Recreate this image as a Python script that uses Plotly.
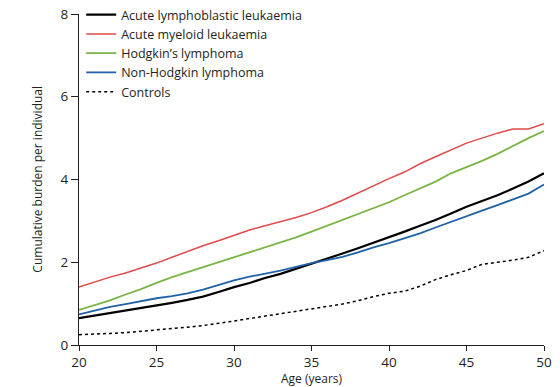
import plotly.graph_objects as go

ages = list(range(20, 51))

all_vals = [0.65, 0.71, 0.77, 0.83, 0.90, 0.96, 1.02, 1.09, 1.17, 1.28, 1.40, 1.50, 1.62, 1.72,
            1.84, 1.96, 2.08, 2.21, 2.34, 2.47, 2.60, 2.74, 2.88, 3.02, 3.18, 3.34, 3.48, 3.62,
            3.78, 3.95, 4.15]
aml_vals = [1.40, 1.52, 1.64, 1.74, 1.86, 1.98, 2.12, 2.26, 2.40, 2.52, 2.65, 2.78, 2.88, 2.98,
            3.08, 3.20, 3.34, 3.50, 3.68, 3.86, 4.02, 4.18, 4.38, 4.55, 4.72, 4.88, 5.00, 5.12,
            5.22, 5.22, 5.35]
hl_vals = [0.85, 0.97, 1.08, 1.22, 1.35, 1.50, 1.64, 1.76, 1.88, 2.00, 2.12, 2.24, 2.36, 2.48,
           2.60, 2.74, 2.88, 3.02, 3.16, 3.30, 3.45, 3.62, 3.78, 3.95, 4.15, 4.30, 4.45, 4.62,
           4.82, 5.00, 5.17]
nhl_vals = [0.74, 0.83, 0.92, 0.99, 1.06, 1.13, 1.18, 1.25, 1.34, 1.45, 1.56, 1.65, 1.72, 1.80,
            1.89, 1.98, 2.05, 2.13, 2.24, 2.36, 2.46, 2.58, 2.70, 2.84, 2.98, 3.12, 3.25, 3.38,
            3.52, 3.66, 3.88]
ctrl_vals = [0.25, 0.26, 0.28, 0.30, 0.33, 0.36, 0.39, 0.43, 0.47, 0.52, 0.58, 0.64, 0.70, 0.76,
             0.82, 0.88, 0.93, 0.99, 1.07, 1.17, 1.25, 1.30, 1.42, 1.58, 1.70, 1.80, 1.95, 2.00,
             2.05, 2.12, 2.28]

series = [
    ("Acute lymphoblastic leukaemia", all_vals, "#000000", 2.2, "solid"),
    ("Acute myeloid leukaemia", aml_vals, "#e04a4a", 1.5, "solid"),
    ("Hodgkin’s lymphoma", hl_vals, "#78b544", 1.8, "solid"),
    ("Non-Hodgkin lymphoma", nhl_vals, "#1f62a8", 1.8, "solid"),
    ("Controls", ctrl_vals, "#000000", 1.5, "3px,3px"),
]

x_ticks = [20, 25, 30, 35, 40, 45, 50]
y_ticks = [0, 2, 4, 6, 8]

fig = go.Figure()
for name, vals, color, width, dash in series:
    fig.add_trace(go.Scatter(x=ages, y=vals, mode="lines", name=name,
                             line=dict(color=color, width=width, dash=dash)))

font_family = "Open Sans, Noto Sans, sans-serif"
fig.update_layout(
    width=560, height=387,
    margin=dict(l=79, r=16, t=14, b=42, autoexpand=False),
    paper_bgcolor="white", plot_bgcolor="white",
    font=dict(family=font_family, size=13, color="#231f20"),
    showlegend=True,
    legend=dict(xref="container", yref="container", x=0.145, y=1.0,
                xanchor="left", yanchor="top",
                font=dict(size=12.5, color="#231f20"), bgcolor="rgba(0,0,0,0)",
                itemwidth=30, tracegroupgap=0),
    xaxis=dict(range=[20, 50], tickvals=x_ticks, showgrid=False, zeroline=False,
               showline=True, linecolor="#231f20", linewidth=1.2,
               ticks="outside", ticklen=5, tickcolor="#231f20", tickwidth=1,
               tickfont=dict(size=13.5)),
    yaxis=dict(range=[0, 8], tickvals=y_ticks, showgrid=False, zeroline=False,
               showline=True, linecolor="#231f20", linewidth=1.2,
               ticks="outside", ticklen=7, tickcolor="#231f20", tickwidth=1,
               tickfont=dict(size=13.5)),
    annotations=[
        dict(text="Age (years)", xref="paper", yref="paper", x=0.5, y=-0.074,
             xanchor="center", yanchor="top", showarrow=False, borderpad=0,
             font=dict(size=12)),
        dict(text="Cumulative burden per individual", xref="paper", yref="paper",
             x=-0.09, y=0.5, xanchor="center", yanchor="middle", textangle=-90,
             showarrow=False, font=dict(size=12)),
    ],
)

fig.write_html("out.html", config={"displayModeBar": False},
               post_script="document.body.style.margin='0';document.body.style.padding='0';document.body.style.overflow='hidden';")
